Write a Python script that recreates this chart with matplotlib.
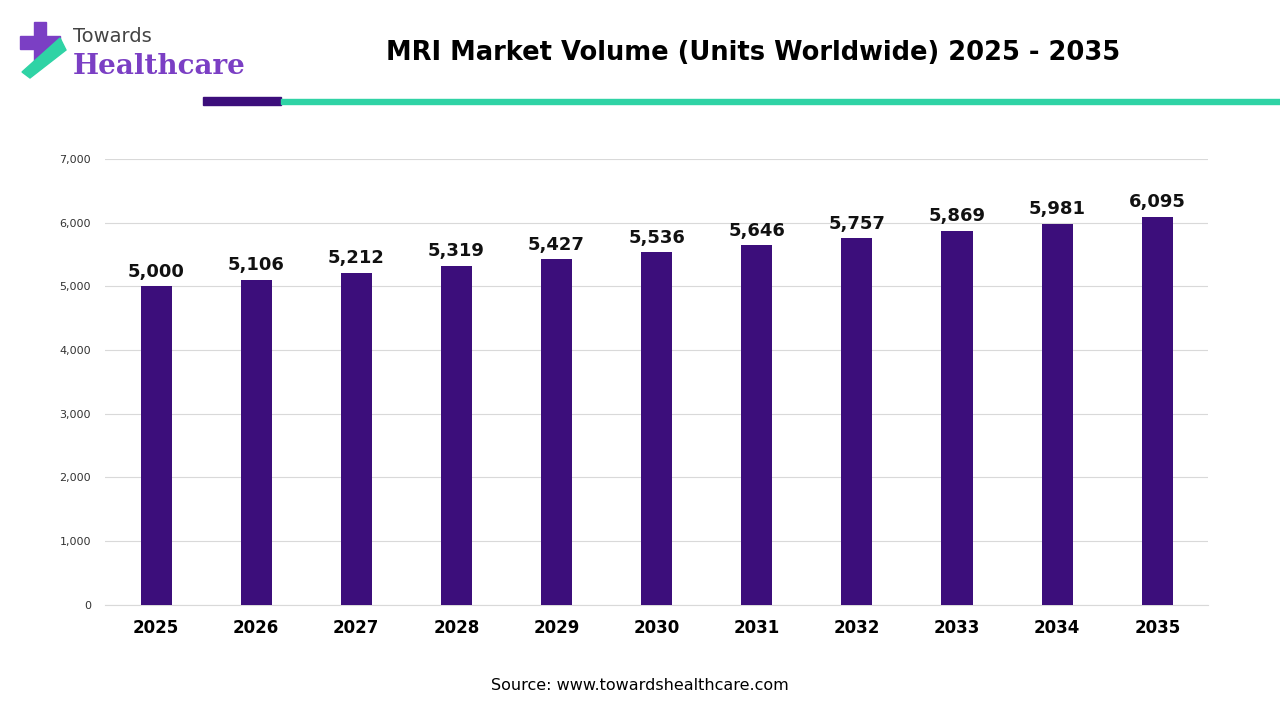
import matplotlib.pyplot as plt
from matplotlib.patches import Rectangle, Polygon

years = ['2025', '2026', '2027', '2028', '2029', '2030', '2031', '2032', '2033', '2034', '2035']
units = [5000, 5106, 5212, 5319, 5427, 5536, 5646, 5757, 5869, 5981, 6095]

fig = plt.figure(figsize=(12.8, 7.2), dpi=100)
ax = fig.add_axes([0.082, 0.16, 0.862, 0.619])
x = range(len(years))
ax.bar(x, units, width=0.31, color='#3C0E7B', zorder=3)
for i, v in zip(x, units):
    ax.text(i, v + 90, f'{v:,}', ha='center', va='bottom', fontsize=13, fontweight='bold', color='#111111')
ax.set_xlim(-0.51, 10.51)
ax.set_ylim(0, 7000)
ax.set_yticks(range(0, 7001, 1000))
ax.set_yticklabels([f'{t:,}' for t in range(0, 7001, 1000)], fontsize=8, color='#333333')
ax.set_xticks(list(x))
ax.set_xticklabels(years, fontsize=12, fontweight='bold')
ax.grid(axis='y', color='#d9d9d9', linewidth=0.8, zorder=0)
for s in ['top', 'right', 'left']:
    ax.spines[s].set_visible(False)
ax.spines['bottom'].set_color('#d9d9d9')
ax.tick_params(length=0, pad=10)

fig.text(0.588, 0.927, 'MRI Market Volume (Units Worldwide) 2025 - 2035', ha='center', va='center',
         fontsize=18.5, fontweight='bold')
fig.add_artist(Rectangle((203/1280, 1-105/720), 78/1280, 8/720, color='#3C0E7B', transform=fig.transFigure))
fig.add_artist(Rectangle((281/1280, 1-104/720), 999/1280, 5/720, color='#2FD3A5', transform=fig.transFigure))

# logo
fig.add_artist(Rectangle((34/1280, 1-62/720), 12/1280, 40/720, color='#7B3FC4', transform=fig.transFigure))
fig.add_artist(Rectangle((20/1280, 1-49/720), 40/1280, 13/720, color='#7B3FC4', transform=fig.transFigure))
fig.add_artist(Polygon([(22/1280, 1-72/720), (60/1280, 1-38/720), (66/1280, 1-50/720), (30/1280, 1-78/720)],
                       closed=True, color='#2FD3A5', transform=fig.transFigure))
fig.text(73/1280, 1-36/720, 'Towards', fontsize=14, color='#444444', va='center')
fig.text(73/1280, 1-66/720, 'Healthcare', fontsize=20, fontweight='bold', color='#7B3FC4', va='center',
         family='DejaVu Serif')

fig.text(0.5, 1-686/720, 'Source: www.towardshealthcare.com', ha='center', va='center', fontsize=11.5)
fig.savefig('out.png', dpi=100)
